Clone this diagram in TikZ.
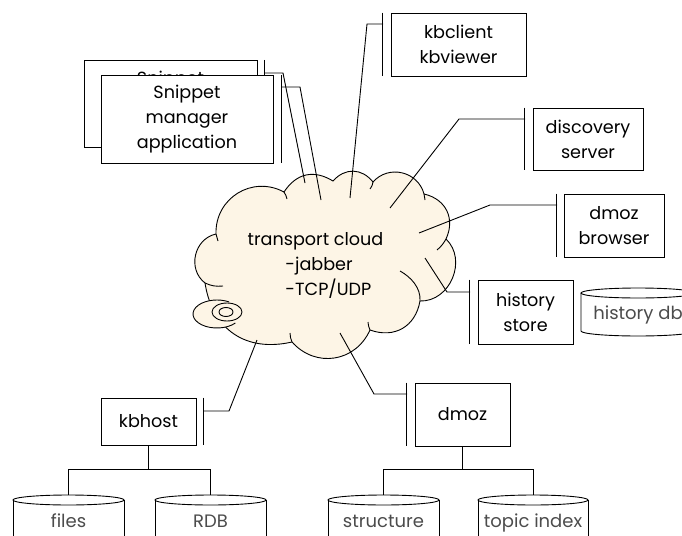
\documentclass[tikz,border=0pt]{standalone}
\usepackage{fontspec}
\setmainfont{Poppins}
\definecolor{cloudcream}{RGB}{253,245,230}
\begin{document}
\begin{tikzpicture}[x=1pt,y=-1pt,line width=0.9pt,
  box/.style={draw, fill=white, align=center, inner sep=0pt,
    font=\fontsize{17.6}{25}\selectfont},
  boxtext/.style={inner sep=0pt, font=\fontsize{17.6}{25}\selectfont},
  dbtext/.style={text=black!70, inner sep=0pt, anchor=base,
    font=\fontsize{18}{20}\selectfont},
  cloudtext/.style={inner sep=0pt, font=\fontsize{17.6}{20}\selectfont},
  lobe/.style={bend left=#1, looseness=1.15}
]
\useasboundingbox (0,0) rectangle (682,535);

% ---------- transport cloud ----------
\coordinate (C1) at (216,234);
\coordinate (C2) at (284,192);
\coordinate (C3) at (333,181);
\coordinate (C4) at (373,182);
\coordinate (C5) at (424,194);
\coordinate (C6) at (446,239);
\coordinate (C7) at (420,301);
\coordinate (C8) at (370,330);
\coordinate (C9) at (292,342);
\coordinate (C10) at (205,283);
\draw[fill=cloudcream]
  (C1) to[lobe=60] (C2) to[lobe=44] (C3) to[lobe=50] (C4) to[lobe=62] (C5)
  to[lobe=51] (C6) to[lobe=69] (C7) to[lobe=50] (C8) to[lobe=57] (C9)
  to[lobe=47] (C10) to[lobe=65] (C1) -- cycle;
% inner ends of the lobes
\draw (C1) to[bend right=10] (218,241);
\draw (C10) to[bend right=15] (223,286);
\draw (C2) to[bend left=10] (287,199);
\draw (C4) to[bend left=15] (370,189);
\draw (C5) to[bend left=10] (425,200);
\draw (C6) to[bend left=10] (437,250);
\draw (C7) .. controls (421,288) and (411,277) .. (400,271);
\draw (C8) to[bend left=10] (368,322);
\draw (C9) to[bend left=10] (290,333);
% small bubble at the lower left
\fill[cloudcream] (217,314) ellipse[x radius=24, y radius=14];
\draw (217,314) ++(40:24 and 14) arc[start angle=40, end angle=300, x radius=24, y radius=14];
\draw (227,312) ellipse[x radius=15, y radius=9];
\draw (226,312) ellipse[x radius=7, y radius=4.5];

\node[cloudtext, anchor=base] (ctitle) at (315.5,245) {transport cloud};
\node[cloudtext, anchor=base west] (cjab) at (285,270) {-jabber};
\node[cloudtext, anchor=base west] (ctcp) at (285,295) {-TCP/UDP};

% attachment points inside the cloud
\coordinate (inSnipB) at (305,183);
\coordinate (inSnipF) at (321,200);
\coordinate (inKbc) at (350,198);
\coordinate (inDisc) at (390,208);
\coordinate (inBrow) at (419,233);
\coordinate (inHist) at (425,258);
\coordinate (inDmoz) at (340,333);
\coordinate (inHost) at (257,340);

% ---------- snippet manager (stacked) ----------
\node[box, minimum width=173pt, minimum height=87pt] (snipback) at (170.5,103.5) {};
\node[boxtext, anchor=base] (snipbacktext) at (170.5,84) {Snippet};
\draw (264,60) -- (264,147);
\coordinate (snipBA) at (264,73);
\coordinate (snipBB) at (283,73);
\draw (snipBA) -- (snipBB) -- (inSnipB);
\node[box, minimum width=172pt, minimum height=88pt] (snipfront) at (187,119)
  {Snippet\\manager\\application};
\draw (281,75) -- (281,163);
\coordinate (snipFA) at (281,87);
\coordinate (snipFB) at (300,87);
\draw (snipFA) -- (snipFB) -- (inSnipF);

% ---------- kbclient ----------
\node[box, minimum width=135pt, minimum height=63pt] (kbc) at (458.5,44.5)
  {kbclient\\kbviewer};
\draw ([xshift=-8pt]kbc.north west) -- ([xshift=-8pt]kbc.south west);
\coordinate (kbcA) at (383,24);
\coordinate (kbcB) at (367,24);
\draw (kbcA) -- (kbcB) -- (inKbc);

% ---------- discovery server ----------
\node[box, minimum width=110pt, minimum height=62pt] (disc) at (588,139)
  {discovery\\server};
\draw ([xshift=-8pt]disc.north west) -- ([xshift=-8pt]disc.south west);
\coordinate (discA) at (525,119);
\coordinate (discB) at (459,119);
\draw (discA) -- (discB) -- (inDisc);

% ---------- dmoz browser ----------
\node[box, minimum width=100pt, minimum height=63pt] (brow) at (614,225.5)
  {dmoz\\browser};
\draw ([xshift=-7pt]brow.north west) -- ([xshift=-7pt]brow.south west);
\coordinate (browA) at (557,205);
\coordinate (browB) at (490,205);
\draw (browA) -- (browB) -- (inBrow);

% ---------- history store ----------
\node[box, minimum width=95pt, minimum height=64pt] (hist) at (525.5,312)
  {history\\store};
\draw ([xshift=-8pt]hist.north west) -- ([xshift=-8pt]hist.south west);
\coordinate (histA) at (470,292);
\coordinate (histB) at (447,292);
\draw (histA) -- (histB) -- (inHist);

\path[fill=white] (581,293) -- (581,331) arc[start angle=180, end angle=0, x radius=57, y radius=5]
  -- (695,293) -- cycle;
\draw (581,293) -- (581,331) arc[start angle=180, end angle=0, x radius=57, y radius=5]
  -- (695,293);
\draw[fill=white] (638,293) ellipse[x radius=57, y radius=5];
\node[dbtext] (histdb) at (638,319) {history db};

% ---------- kbhost ----------
\node[box, minimum width=95pt, minimum height=47pt] (host) at (148.5,421.5) {kbhost};
\draw ([xshift=7pt]host.north east) -- ([xshift=7pt]host.south east);
\coordinate (hostA) at (203,411);
\coordinate (hostB) at (229,411);
\draw (hostA) -- (hostB) -- (inHost);

% ---------- dmoz ----------
\node[box, minimum width=95pt, minimum height=63pt] (dmoz) at (462.5,414.5) {dmoz};
\draw ([xshift=-8pt]dmoz.north west) -- ([xshift=-8pt]dmoz.south west);
\coordinate (dmozA) at (407,394);
\coordinate (dmozB) at (374,394);
\draw (dmozA) -- (dmozB) -- (inDmoz);

% ---------- storage drums ----------
\foreach \cx/\hw/\lbl in {68.5/55.5/files, 210.5/55.5/RDB,
    383.5/55.5/structure, 533/55/topic index} {
  \fill[white] (\cx-\hw,500) rectangle (\cx+\hw,545);
  \draw (\cx-\hw,545) -- (\cx-\hw,500) (\cx+\hw,500) -- (\cx+\hw,545);
  \draw (\cx,500) ellipse[x radius=\hw, y radius=5];
  \node[dbtext] at (\cx,527) {\lbl};
}
\coordinate (filesTop) at (68.5,495);
\coordinate (rdbTop) at (210.5,495);
\coordinate (structTop) at (383.5,495);
\coordinate (topicTop) at (533,495);

% ---------- storage links ----------
\coordinate (hostfork) at (148.5,469);
\draw[line width=1.3pt] (host.south) -- (hostfork);
\draw (filesTop) -- (filesTop |- hostfork) -- (rdbTop |- hostfork) -- (rdbTop);
\coordinate (dmozfork) at (462.5,469);
\draw[line width=1.3pt] (dmoz.south) -- (dmozfork);
\draw (structTop) -- (structTop |- dmozfork) -- (topicTop |- dmozfork) -- (topicTop);
\end{tikzpicture}
\end{document}
